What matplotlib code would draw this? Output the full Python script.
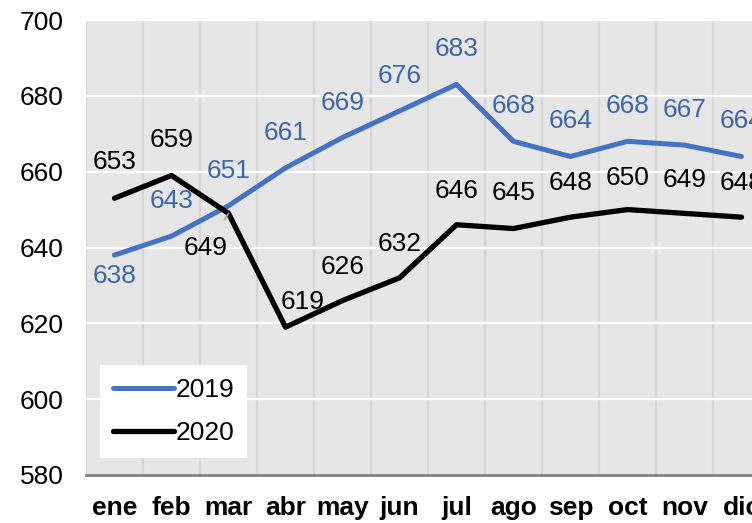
import matplotlib.pyplot as plt
import numpy as np

months = ["ene", "feb", "mar", "abr", "may", "jun", "jul", "ago", "sep", "oct", "nov", "dic"]
vals_2019 = [638, 643, 651, 661, 669, 676, 683, 668, 664, 668, 667, 664]
vals_2020 = [653, 659, 649, 619, 626, 632, 646, 645, 648, 650, 649, 648]
y_ticks = [580, 600, 620, 640, 660, 680, 700]

# label offsets in pixels (dx, dy), screen coords (dy positive = down)
off_2019 = [(0, 21)] + [(0, -35)] * 11
off_2020 = [(0, -36), (0, -35), (-23, 35), (17, -25), (0, -34), (0, -34),
            (0, -34), (0, -36), (0, -34), (0, -32), (0, -33), (0, -34)]

BLUE = "#4472c4"
BLUE_TXT = "#3c66b0"
FONT = "Liberation Sans"

plt.rcParams['font.family'] = [FONT, 'DejaVu Sans']

fig = plt.figure(figsize=(7.52, 5.23), dpi=100, facecolor='white')
ax = fig.add_axes([86 / 752, 48 / 523, 684 / 752, 455 / 523])
ax.set_facecolor('#e6e6e6')

x = np.arange(len(months))
ax.plot(x, vals_2019, color=BLUE, lw=3.6, solid_joinstyle='round',
        solid_capstyle='round', label='2019', zorder=3)
ax.plot(x, vals_2020, color='black', lw=3.8, solid_joinstyle='round',
        solid_capstyle='round', label='2020', zorder=4)

px = 72 / 100  # pixels -> points
for i, v in enumerate(vals_2019):
    dx, dy = off_2019[i]
    ax.annotate(str(v), (x[i], v), xytext=(dx * px, -dy * px), textcoords='offset points',
                ha='center', va='center', fontsize=19, color=BLUE_TXT, zorder=6)
for i, v in enumerate(vals_2020):
    dx, dy = off_2020[i]
    if i == 2:
        ax.annotate(str(v), (x[i], v), xytext=(dx * px, -dy * px), textcoords='offset points',
                    ha='center', va='center', fontsize=19, color='black', zorder=6,
                    arrowprops=dict(arrowstyle='-', color='#a6a6a6', lw=1.2,
                                    shrinkA=12, shrinkB=0))
    else:
        ax.annotate(str(v), (x[i], v), xytext=(dx * px, -dy * px), textcoords='offset points',
                    ha='center', va='center', fontsize=19, color='black', zorder=6)

ax.set_xlim(-0.5, len(months) - 0.5)
ax.set_ylim(580, 700)
ax.set_yticks(y_ticks)
ax.set_yticklabels([str(t) for t in y_ticks], fontsize=19)
ax.set_xticks(x)
ax.set_xticklabels(months, fontsize=19, fontweight='bold')
ax.set_xticks(np.arange(-0.5, len(months), 1), minor=True)
ax.tick_params(axis='both', which='both', length=0)
ax.tick_params(axis='y', pad=16)
ax.tick_params(axis='x', pad=15)

ax.grid(True, axis='y', color='white', lw=1.6, zorder=1)
ax.grid(True, axis='x', which='minor', color='#d6d6d6', lw=1.6, zorder=1)
ax.grid(False, axis='x', which='major')
ax.set_axisbelow(True)

for s in ['top', 'right', 'left']:
    ax.spines[s].set_visible(False)
ax.spines['bottom'].set_color('#7f7f7f')
ax.spines['bottom'].set_linewidth(2)

leg = ax.legend(loc='lower left', bbox_to_anchor=((100 - 86) / 684, (475 - 458) / 455),
                fontsize=19, frameon=True, fancybox=False, framealpha=1,
                edgecolor='white', handlelength=2.3, handletextpad=0.05,
                labelspacing=0.7, borderpad=0.5, borderaxespad=0)
leg.get_frame().set_linewidth(0)
for h in leg.get_lines():
    h.set_solid_capstyle('round')

# title mostly cut off at the top edge
fig.text(0.127, 1 + 1 / 523, "Promedio móvil de 12 meses", fontsize=16, color='#7f7f7f',
         ha='left', va='baseline')

fig.savefig('out.png', dpi=100)
